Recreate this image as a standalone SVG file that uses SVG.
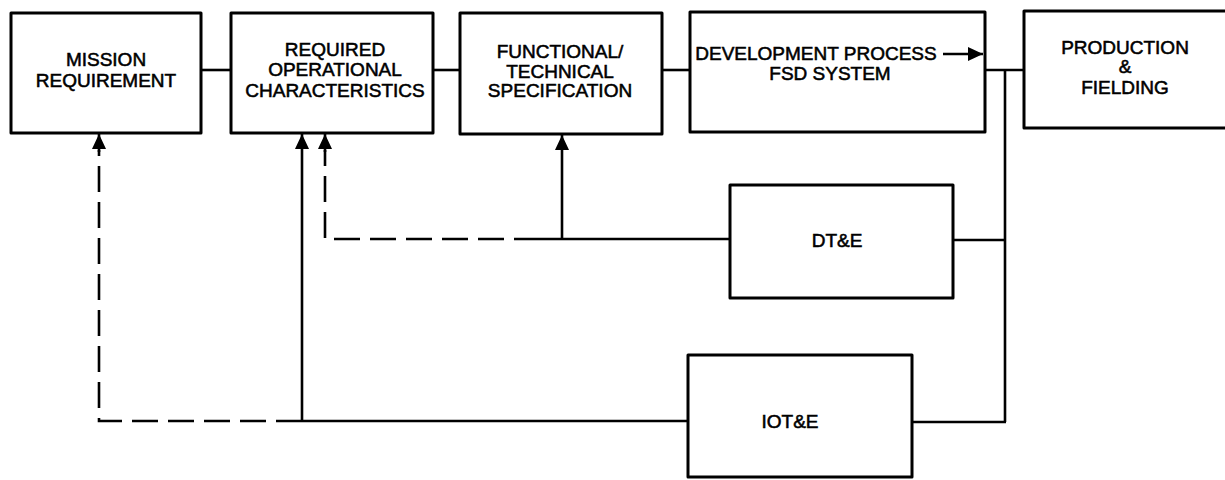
<svg xmlns="http://www.w3.org/2000/svg" width="1225" height="480" viewBox="0 0 1225 480">
<style>
.box{fill:#fff;stroke:#000;stroke-width:3;stroke-linejoin:round}
.t{font-family:"Liberation Sans",Arial,sans-serif;font-size:19px;fill:#000;text-anchor:middle;stroke:#000;stroke-width:0.55}
.c{fill:none;stroke:#000;stroke-width:2.6}
.d{fill:none;stroke:#000;stroke-width:2.6;stroke-dasharray:26 10}
</style>
<defs>
<marker id="ah" viewBox="0 0 15 14" refX="15" refY="7" markerWidth="15" markerHeight="14" markerUnits="userSpaceOnUse" orient="auto">
<path d="M0,0 L15,7 L0,14 Z" fill="#000"/>
</marker>
</defs>
<rect width="1225" height="480" fill="#fff"/>
<g id="mission">
<rect class="box" x="11" y="13" width="190" height="120"/>
<text class="t" x="106" y="66">MISSION</text>
<text class="t" x="106" y="87">REQUIREMENT</text>
</g>
<g id="roc">
<rect class="box" x="231" y="13" width="202" height="120"/>
<text class="t" x="335" y="56">REQUIRED</text>
<text class="t" x="335" y="76">OPERATIONAL</text>
<text class="t" x="335" y="97">CHARACTERISTICS</text>
</g>
<g id="spec">
<rect class="box" x="460" y="13" width="202" height="121"/>
<text class="t" x="560" y="58">FUNCTIONAL/</text>
<text class="t" x="560" y="78">TECHNICAL</text>
<text class="t" x="560" y="97">SPECIFICATION</text>
</g>
<g id="dev">
<rect class="box" x="690" y="12" width="295" height="120"/>
<text class="t" x="816" y="60">DEVELOPMENT PROCESS</text>
<text class="t" x="830" y="80">FSD SYSTEM</text>
</g>
<g id="prod">
<rect class="box" x="1024" y="11" width="210" height="117"/>
<text class="t" x="1125" y="54">PRODUCTION</text>
<text class="t" x="1125" y="73">&amp;</text>
<text class="t" x="1125" y="94">FIELDING</text>
</g>
<g id="dte">
<rect class="box" x="730" y="185" width="223" height="113"/>
<text class="t" x="837" y="247">DT&amp;E</text>
</g>
<g id="iote">
<rect class="box" x="688" y="355" width="224" height="122"/>
<text class="t" x="790" y="428">IOT&amp;E</text>
</g>
<g id="connectors">
<line class="c" x1="202" y1="70" x2="230" y2="70"/>
<line class="c" x1="434" y1="70" x2="459" y2="70"/>
<line class="c" x1="663" y1="70" x2="689" y2="70"/>
<line class="c" x1="986" y1="70" x2="1023" y2="70"/>
<line class="c" x1="1005" y1="70" x2="1005" y2="422"/>
<line class="c" x1="954" y1="240" x2="1005" y2="240"/>
<line class="c" x1="913" y1="422" x2="1006" y2="422"/>
<line class="c" x1="540" y1="239" x2="729" y2="239"/>
<path class="d" d="M540,239 H325 V150"/>
<line class="c" x1="562" y1="239" x2="562" y2="135" marker-end="url(#ah)"/>
<line class="c" x1="325" y1="152" x2="325" y2="134" marker-end="url(#ah)"/>
<line class="c" x1="687" y1="421" x2="302" y2="421"/>
<line class="c" x1="302" y1="421" x2="302" y2="134" marker-end="url(#ah)"/>
<path class="d" d="M302,421 H99 V150"/>
<line class="c" x1="99" y1="152" x2="99" y2="134" marker-end="url(#ah)"/>
<line class="c" x1="943" y1="54" x2="983" y2="54" marker-end="url(#ah)"/>
</g>
</svg>
